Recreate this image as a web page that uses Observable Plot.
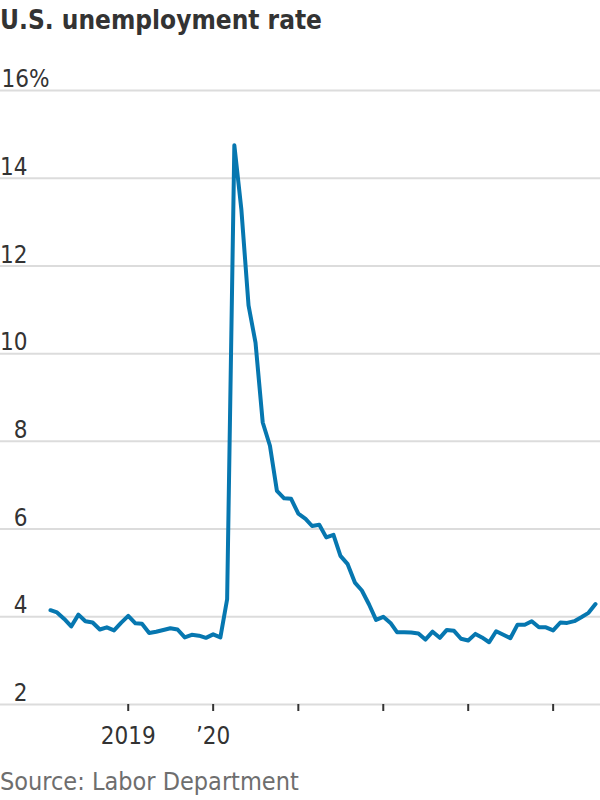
<!DOCTYPE html>
<html><head><meta charset="utf-8">
<script src="https://cdn.jsdelivr.net/npm/d3@7"></script>
<script src="https://cdn.jsdelivr.net/npm/@observablehq/plot@0.6"></script>
<style>
body{margin:0;background:#fff;width:600px;font-family:"Liberation Sans Narrow","DejaVu Sans Condensed","Roboto",sans-serif;}
#title{font-weight:bold;font-size:26px;color:#333;height:48px;line-height:40px;margin:0;}
#chart svg{display:block;}
#source{font-size:25px;color:#6e6e6e;line-height:30px;margin-top:12px;}
</style></head><body>
<div id="title">U.S. unemployment rate</div>
<div id="chart"></div>
<div id="source">Source: Labor Department</div>
<script>
// Monthly unemployment rate, %, starting February 2018
const startYear = 2018, startMonth = 1;
const rate2018 = [4.15, 4.10, 3.95, 3.78, 4.05, 3.90, 3.87, 3.71, 3.76, 3.69, 3.86];
const rate2019 = [4.02, 3.85, 3.84, 3.63, 3.66, 3.70, 3.74, 3.71, 3.53, 3.59, 3.57, 3.52];
const rate2020 = [3.60, 3.53, 4.40, 14.75, 13.30, 11.10, 10.25, 8.43, 7.90, 6.87, 6.70, 6.69];
const rate2021 = [6.35, 6.23, 6.07, 6.10, 5.81, 5.87, 5.39, 5.20, 4.78, 4.60, 4.28, 3.93];
const rate2022 = [4.00, 3.86, 3.65, 3.65, 3.64, 3.62, 3.48, 3.66, 3.52, 3.70, 3.68, 3.50];
const rate2023 = [3.46, 3.61, 3.53, 3.42, 3.67, 3.59, 3.51, 3.82, 3.82, 3.90, 3.76, 3.76];
const rate2024 = [3.69, 3.87, 3.86, 3.90, 3.99, 4.09, 4.29];

const yTicks = [2, 4, 6, 8, 10, 12, 14, 16];
const xTickYears = [2019, 2020, 2021, 2022, 2023, 2024];
const xTickLabels = ["2019", "\u201920", "", "", "", ""];

const rates = [].concat(rate2018, rate2019, rate2020, rate2021, rate2022, rate2023, rate2024);
const data = rates.map((r, i) => ({date: new Date(Date.UTC(startYear, startMonth + i, 1)), rate: r}));
const xTicks = xTickYears.map(y => new Date(Date.UTC(y, 0, 1)));
const labelOf = d => xTickLabels[xTickYears.indexOf(d.getUTCFullYear())];

const font = '"Liberation Sans Narrow","DejaVu Sans Condensed","Roboto",sans-serif';
const chart = Plot.plot({
  width: 600, height: 707,
  marginLeft: 50, marginRight: 5, marginTop: 42, marginBottom: 51,
  style: {fontFamily: font, fontSize: "24px", color: "#333", background: "#fff"},
  x: {type: "utc", domain: [data[0].date, data[data.length - 1].date], label: null},
  y: {domain: [2, 16], label: null},
  marks: [
    Plot.ruleY(yTicks, {stroke: "#dcdcdc", strokeWidth: 2, insetLeft: -50, insetRight: -5}),
    Plot.axisX(xTicks, {tickSize: 7, tickPadding: 15, stroke: "#333", strokeWidth: 2, tickFormat: labelOf, fill: "#333", fontSize: 24, label: null}),
    Plot.axisY(yTicks.filter(d => d !== 16), {tickSize: 0, tickPadding: 23, textAnchor: "end", dy: -11, fill: "#333", fontSize: 24, label: null}),
    Plot.axisY([16], {tickSize: 0, tickPadding: 49, textAnchor: "start", dy: -11, tickFormat: d => d + "%", fill: "#333", fontSize: 24, label: null}),
    Plot.line(data, {x: "date", y: "rate", stroke: "#0677b0", strokeWidth: 4, strokeLinejoin: "round", strokeLinecap: "round"})
  ]
});
document.getElementById("chart").appendChild(chart);
</script>
</body></html>
